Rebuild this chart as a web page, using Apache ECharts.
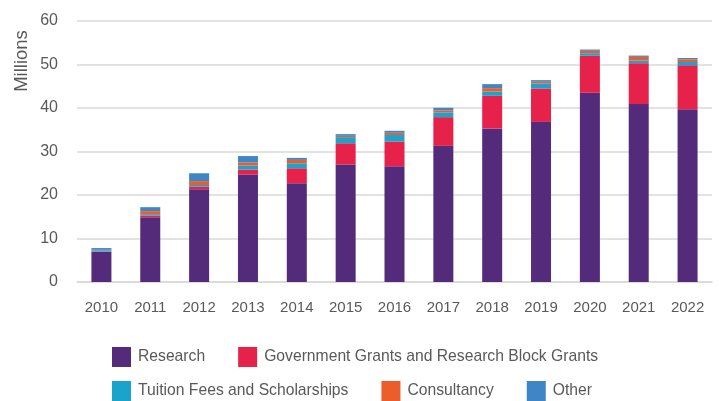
<!DOCTYPE html>
<html>
<head>
<meta charset="utf-8">
<script src="https://cdn.jsdelivr.net/npm/echarts@6/dist/echarts.min.js"></script>
<style>
html,body{margin:0;padding:0;background:#fff;}
#chart{width:719px;height:401px;}
</style>
</head>
<body>
<div id="chart"></div>
<script>
var categories = ['2010','2011','2012','2013','2014','2015','2016','2017','2018','2019','2020','2021','2022'];
var research    = [6.9, 14.9, 21.3, 24.7, 22.7, 27.0, 26.6, 31.3, 35.3, 36.8, 43.5, 40.9, 39.7];
var government  = [0.1, 0.4, 0.6, 1.15, 3.45, 4.9, 5.7, 6.6, 7.5, 7.7, 8.5, 9.4, 10.1];
var tuition     = [0.3, 0.3, 0.4, 0.9, 1.15, 1.4, 1.5, 1.1, 1.0, 1.15, 0.6, 0.6, 0.77];
var consultancy = [0.1, 0.7, 0.9, 0.7, 0.77, 0.3, 0.5, 0.46, 0.77, 0.38, 0.54, 0.85, 0.62];
var other       = [0.4, 0.9, 1.8, 1.5, 0.46, 0.4, 0.46, 0.6, 0.92, 0.38, 0.3, 0.3, 0.3];
var yTicks = [0, 10, 20, 30, 40, 50, 60];

var seriesNames = ['Research', 'Government Grants and Research Block Grants', 'Tuition Fees and Scholarships', 'Consultancy', 'Other'];
var seriesData = [research, government, tuition, consultancy, other];
var colors = ['#542B7A', '#E6214A', '#1AA3CB', '#EB5E2C', '#3F86C6'];

var font = 'Liberation Sans, Arial, sans-serif';
var textColor = '#595959';

var chart = echarts.init(document.getElementById('chart'), null, {renderer: 'canvas'});
var legendCommon = {
  orient: 'horizontal',
  left: 112,
  padding: 0,
  itemWidth: 19,
  itemHeight: 20,
  itemGap: 33,
  icon: 'rect',
  selectedMode: false,
  textStyle: {fontSize: 15.7, color: textColor, fontFamily: font, padding: [0, 0, 0, 2]}
};
chart.setOption({
  animation: false,
  color: colors,
  grid: {left: 77, right: 7, top: 21, bottom: 119, containLabel: false},
  legend: [
    Object.assign({}, legendCommon, {top: 347, data: seriesNames.slice(0, 2)}),
    Object.assign({}, legendCommon, {top: 381, data: seriesNames.slice(2)})
  ],
  graphic: [{
    type: 'text',
    x: 22, y: 61,
    rotation: Math.PI / 2,
    style: {text: 'Millions', fontSize: 18.5, fill: textColor, fontFamily: font, align: 'center', verticalAlign: 'middle'}
  }],
  xAxis: {
    type: 'category',
    data: categories,
    axisLine: {show: true, lineStyle: {color: '#d9d9d9', width: 1.5}},
    axisTick: {show: false},
    axisLabel: {fontSize: 15, color: textColor, fontFamily: font, margin: 18}
  },
  yAxis: {
    type: 'value',
    min: yTicks[0],
    max: yTicks[yTicks.length - 1],
    interval: 10,
    axisLine: {show: false},
    axisTick: {show: false},
    splitLine: {lineStyle: {color: '#d9d9d9', width: 1.5}},
    axisLabel: {fontSize: 16, color: textColor, fontFamily: font, margin: 19}
  },
  series: seriesNames.map(function (name, i) {
    return {
      name: name,
      type: 'bar',
      stack: 'total',
      barWidth: 20,
      data: seriesData[i],
      itemStyle: {color: colors[i]}
    };
  })
});
</script>
</body>
</html>
